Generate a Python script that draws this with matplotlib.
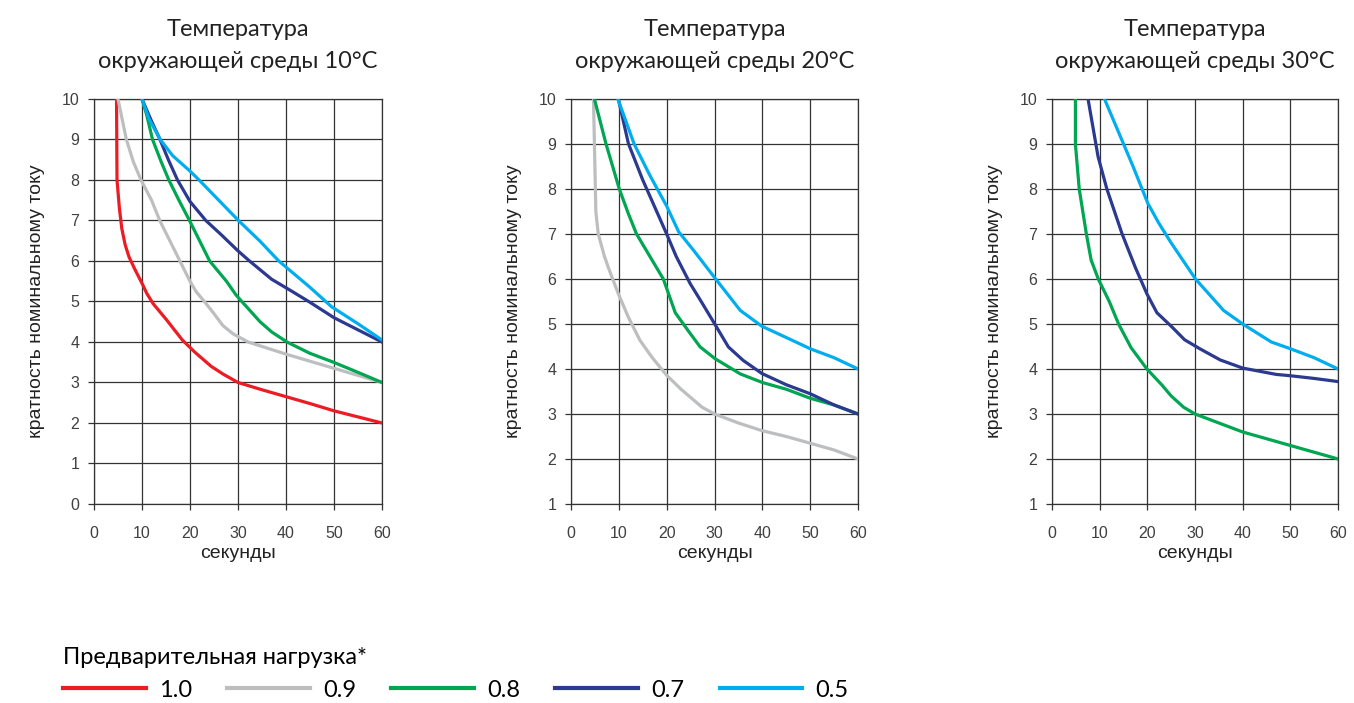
import matplotlib
matplotlib.use('Agg')
import matplotlib.pyplot as plt
from matplotlib.lines import Line2D
import numpy as np

# preload values and colours
loads = ['1.0', '0.9', '0.8', '0.7', '0.5']
colors = ['#ED1C24', '#BCBEC0', '#00A651', '#2B3990', '#00AEEF']

# ambient 10 C
t10_x = {
    '1.0': [4.7, 4.8, 5.3, 5.8, 6.5, 7.3, 8.5, 10, 11, 12.3, 15.1, 18.4, 21, 24.4, 27, 30, 35, 40, 45, 50, 55, 60],
    '0.9': [5.0, 6.75, 8.2, 9.8, 12, 13.7, 15.8, 17.9, 20, 21.3, 23, 25, 26.9, 29, 32.1, 40, 50, 60],
    '0.8': [10, 11, 12.2, 14, 15.6, 17.7, 19.9, 22, 24.1, 27.6, 29.6, 30.8, 34.6, 37, 40.2, 45, 49.9, 55, 60],
    '0.7': [10, 12, 13.75, 15.5, 17.4, 20, 23.3, 26.5, 30, 32.4, 37, 41.4, 45, 50, 55, 60],
    '0.5': [10, 11.5, 13.8, 16.4, 20, 21.9, 26, 30.1, 34.5, 38.5, 42.8, 45, 49.5, 55, 60],
}
t10_y = {
    '1.0': [10, 8.0, 7.3, 6.8, 6.4, 6.1, 5.8, 5.45, 5.2, 4.95, 4.55, 4.05, 3.75, 3.4, 3.2, 3.0, 2.82, 2.65, 2.48, 2.3, 2.15, 2.0],
    '0.9': [10, 9.0, 8.45, 8.0, 7.5, 7.0, 6.5, 6.0, 5.5, 5.24, 5.0, 4.7, 4.4, 4.2, 4.0, 3.7, 3.35, 3.0],
    '0.8': [10, 9.6, 9.0, 8.45, 8.0, 7.5, 7.0, 6.5, 6.0, 5.5, 5.16, 5.0, 4.5, 4.25, 4.0, 3.72, 3.5, 3.25, 3.0],
    '0.7': [10, 9.45, 9.0, 8.5, 8.0, 7.47, 7.0, 6.65, 6.25, 6.0, 5.55, 5.24, 4.98, 4.6, 4.3, 4.0],
    '0.5': [10, 9.5, 9.0, 8.6, 8.22, 8.0, 7.5, 7.0, 6.5, 6.0, 5.57, 5.35, 4.87, 4.45, 4.05],
}

# ambient 20 C
t20_x = {
    '0.9': [4.7, 5.0, 5.2, 5.7, 7.0, 8.0, 9.9, 12, 14.4, 17, 20, 23, 27.4, 30, 35, 39.9, 45, 50, 55, 60],
    '0.8': [4.9, 7.3, 10.1, 12, 13.7, 16.5, 19.3, 21.8, 24.5, 27, 30.1, 35.4, 40, 45, 50, 55, 60],
    '0.7': [9.9, 12, 15, 17.5, 20, 22, 24.9, 27.5, 30.1, 32.9, 36, 39.9, 45, 50, 55, 60],
    '0.5': [9.8, 13.2, 16.5, 20, 22.5, 25.6, 30.1, 35.4, 39.9, 46, 50, 55, 60],
}
t20_y = {
    '0.9': [10, 8.5, 7.49, 7.0, 6.5, 6.2, 5.67, 5.15, 4.64, 4.25, 3.86, 3.55, 3.15, 3.0, 2.8, 2.63, 2.5, 2.35, 2.2, 2.0],
    '0.8': [10, 9.01, 8.0, 7.45, 7.0, 6.5, 6.0, 5.25, 4.85, 4.49, 4.23, 3.89, 3.7, 3.55, 3.35, 3.2, 3.0],
    '0.7': [10, 9.01, 8.2, 7.6, 7.0, 6.5, 5.9, 5.45, 4.99, 4.49, 4.19, 3.9, 3.65, 3.45, 3.2, 3.0],
    '0.5': [10, 9.0, 8.3, 7.62, 7.05, 6.64, 6.02, 5.3, 4.95, 4.65, 4.45, 4.25, 4.0],
}

# ambient 30 C
t30_x = {
    '0.8': [4.9, 4.9, 5.7, 7.2, 8.2, 9.7, 12, 14.0, 16.6, 19.9, 23, 25, 27.6, 30, 35, 40, 45, 50, 55, 60],
    '0.7': [7.55, 9.65, 11.5, 14.7, 17.5, 19.9, 22, 25, 27.8, 31, 35.3, 40, 47, 50, 55, 60],
    '0.5': [11, 15, 17, 20.1, 22.4, 25, 30.1, 36, 40, 46, 50, 55, 60],
}
t30_y = {
    '0.8': [10, 9.0, 8.0, 7.0, 6.42, 6.0, 5.5, 4.99, 4.47, 4.0, 3.65, 3.4, 3.15, 3.0, 2.8, 2.6, 2.45, 2.3, 2.15, 2.0],
    '0.7': [10, 8.72, 8.0, 7.0, 6.25, 5.67, 5.25, 4.95, 4.65, 4.45, 4.2, 4.02, 3.88, 3.85, 3.79, 3.72],
    '0.5': [10, 9.0, 8.5, 7.68, 7.24, 6.8, 6.0, 5.3, 5.0, 4.6, 4.45, 4.25, 4.0],
}

titles = ['Температура\nокружающей среды 10°C',
          'Температура\nокружающей среды 20°C',
          'Температура\nокружающей среды 30°C']
ymins = [0, 1, 1]
xs_all = [t10_x, t20_x, t30_x]
ys_all = [t10_y, t20_y, t30_y]

fig = plt.figure(figsize=(13.54, 7.03), dpi=100)
lefts = [0.0694, 0.4217, 0.7770]
widths = [0.2127, 0.2120, 0.2112]

for i in range(3):
    ax = fig.add_axes([lefts[i], 0.2831, widths[i], 0.5761])
    for j, ld in enumerate(loads):
        if ld in xs_all[i]:
            ax.plot(xs_all[i][ld], ys_all[i][ld], color=colors[j], linewidth=2.3,
                    solid_joinstyle='round', zorder=3)
    ax.set_xlim(0, 60)
    ax.set_ylim(ymins[i], 10)
    ax.set_xticks(np.arange(0, 61, 10))
    ax.set_yticks(np.arange(ymins[i], 11, 1))
    ax.grid(True, color='#333333', linewidth=0.9)
    for s in ax.spines.values():
        s.set_color('#333333')
        s.set_linewidth(0.9)
    ax.tick_params(axis='both', colors='#333333', labelcolor='#404040', labelsize=11.5,
                   length=4.5, width=0.9)
    ax.tick_params(axis='x', pad=11)
    ax.tick_params(axis='y', pad=6)
    for lab in ax.get_xticklabels() + ax.get_yticklabels():
        lab.set_fontfamily('Liberation Sans')
    ax.set_xlabel('секунды', fontsize=14, family='Liberation Sans', color='#222222', labelpad=3)
    ax.set_ylabel('кратность номинальному току', fontsize=14, family='Liberation Sans',
                  color='#222222', labelpad=12)
    ax.set_title(titles[i], fontsize=17, family='Lato', color='#222222', pad=22, linespacing=1.7)

handles = [Line2D([], [], color=c, linewidth=3) for c in colors]
fig.legend(handles, loads, loc='upper left', bbox_to_anchor=(0.0466, 0.080), ncol=5,
           frameon=False, prop={'family': 'Lato', 'size': 17},
           title='Предварительная нагрузка*', title_fontproperties={'family': 'Lato', 'size': 17},
           alignment='left', handlelength=3.5, handletextpad=0.55, columnspacing=1.5,
           borderpad=0, borderaxespad=0)

fig.savefig('out.png', dpi=100)
